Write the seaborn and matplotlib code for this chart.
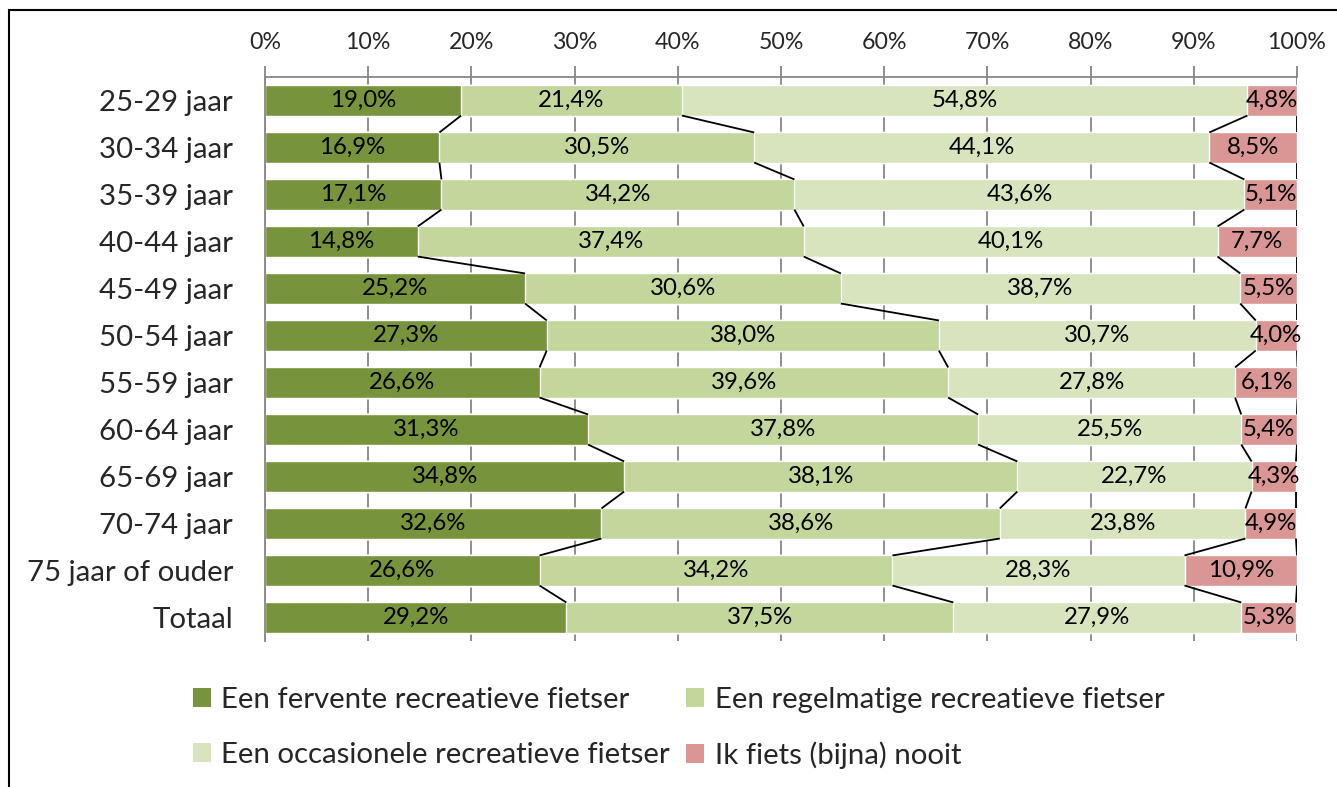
import numpy as np
import matplotlib.pyplot as plt
import seaborn as sns
import pandas as pd
from matplotlib.patches import Rectangle, Patch

categorieen = ['25-29 jaar', '30-34 jaar', '35-39 jaar', '40-44 jaar', '45-49 jaar',
               '50-54 jaar', '55-59 jaar', '60-64 jaar', '65-69 jaar', '70-74 jaar',
               '75 jaar of ouder', 'Totaal']
fervent = [19.0, 16.9, 17.1, 14.8, 25.2, 27.3, 26.6, 31.3, 34.8, 32.6, 26.6, 29.2]
regelmatig = [21.4, 30.5, 34.2, 37.4, 30.6, 38.0, 39.6, 37.8, 38.1, 38.6, 34.2, 37.5]
occasioneel = [54.8, 44.1, 43.6, 40.1, 38.7, 30.7, 27.8, 25.5, 22.7, 23.8, 28.3, 27.9]
nooit = [4.8, 8.5, 5.1, 7.7, 5.5, 4.0, 6.1, 5.4, 4.3, 4.9, 10.9, 5.3]

reeksen = ['Een fervente recreatieve fietser', 'Een regelmatige recreatieve fietser',
           'Een occasionele recreatieve fietser', 'Ik fiets (bijna) nooit']
kleuren = ['#77933C', '#C3D69B', '#D7E4BD', '#D99694']
waarden = [fervent, regelmatig, occasioneel, nooit]

sns.set_style('white')
plt.rcParams['font.family'] = ['Lato', 'DejaVu Sans']

fig = plt.figure(figsize=(13.37, 7.87), dpi=100)
ax = fig.add_axes([265 / 1337, 1 - 641 / 787, (1297 - 265) / 1337, (641 - 77) / 787])

cum = np.cumsum(np.array(waarden), axis=0)
# cumulatief tekenen, van achter naar voor
for i in range(3, -1, -1):
    df = pd.DataFrame({'cat': categorieen, 'val': cum[i]})
    sns.barplot(data=df, y='cat', x='val', color=kleuren[i], width=0.64,
                saturation=1, ax=ax, zorder=2)

pos = np.arange(len(categorieen))
h = 0.64 / 2
# reekslijnen tussen de balken
for i in range(4):
    for j in range(len(categorieen) - 1):
        ax.plot([cum[i][j], cum[i][j + 1]], [pos[j] + h, pos[j + 1] - h],
                color='black', lw=1.3, zorder=3, solid_capstyle='butt')

# labels
for i in range(4):
    start = cum[i] - np.array(waarden[i])
    for j in range(len(categorieen)):
        mid = start[j] + waarden[i][j] / 2
        ax.text(mid, pos[j], f'{waarden[i][j]:.1f}%'.replace('.', ','),
                ha='center', va='center', fontsize=17.3, color='black', zorder=4)

ax.set_xlim(0, 100)
ax.set_ylim(len(categorieen) - 0.5, -0.5)
ax.set_xlabel('')
ax.set_ylabel('')
ax.xaxis.tick_top()
ax.set_xticks(np.arange(0, 101, 10))
ax.set_xticklabels([f'{v}%' for v in range(0, 101, 10)], fontsize=16.7)
ax.tick_params(axis='x', direction='out', length=8, color='#868686', width=1.3, pad=9)
ax.set_yticks(pos)
ax.set_yticklabels(categorieen, fontsize=21.2)
ax.tick_params(axis='y', length=0, pad=23)
ax.set_yticks(np.arange(-0.5, len(categorieen), 1), minor=True)
ax.tick_params(axis='y', which='minor', direction='out', length=10, color='#868686', width=1.3)
ax.grid(axis='x', color='#868686', lw=1.3, zorder=0)
ax.set_axisbelow(True)
for s in ['right', 'bottom']:
    ax.spines[s].set_visible(False)
for s in ['left', 'top']:
    ax.spines[s].set_color('#868686')
    ax.spines[s].set_linewidth(1.3)

# legenda: rij 1 fervent/regelmatig, rij 2 occasioneel/nooit
volgorde = [0, 2, 1, 3]
handles = [Patch(facecolor=kleuren[k], edgecolor='none') for k in volgorde]
fig.legend(handles, [reeksen[k] for k in volgorde], ncol=2, loc='upper left',
           bbox_to_anchor=(178 / 1337, 1 - 672 / 787),
           frameon=False, fontsize=21.2, handlelength=0.62, handleheight=0.62,
           handletextpad=0.35, columnspacing=0.55, labelspacing=0.98, borderpad=0)

fig.patches.append(Rectangle((9 / 1337, -0.1), 2, 1.1 - 10 / 787, transform=fig.transFigure,
                             fill=False, edgecolor='black', lw=1.5))

fig.savefig('out.png', dpi=100)
